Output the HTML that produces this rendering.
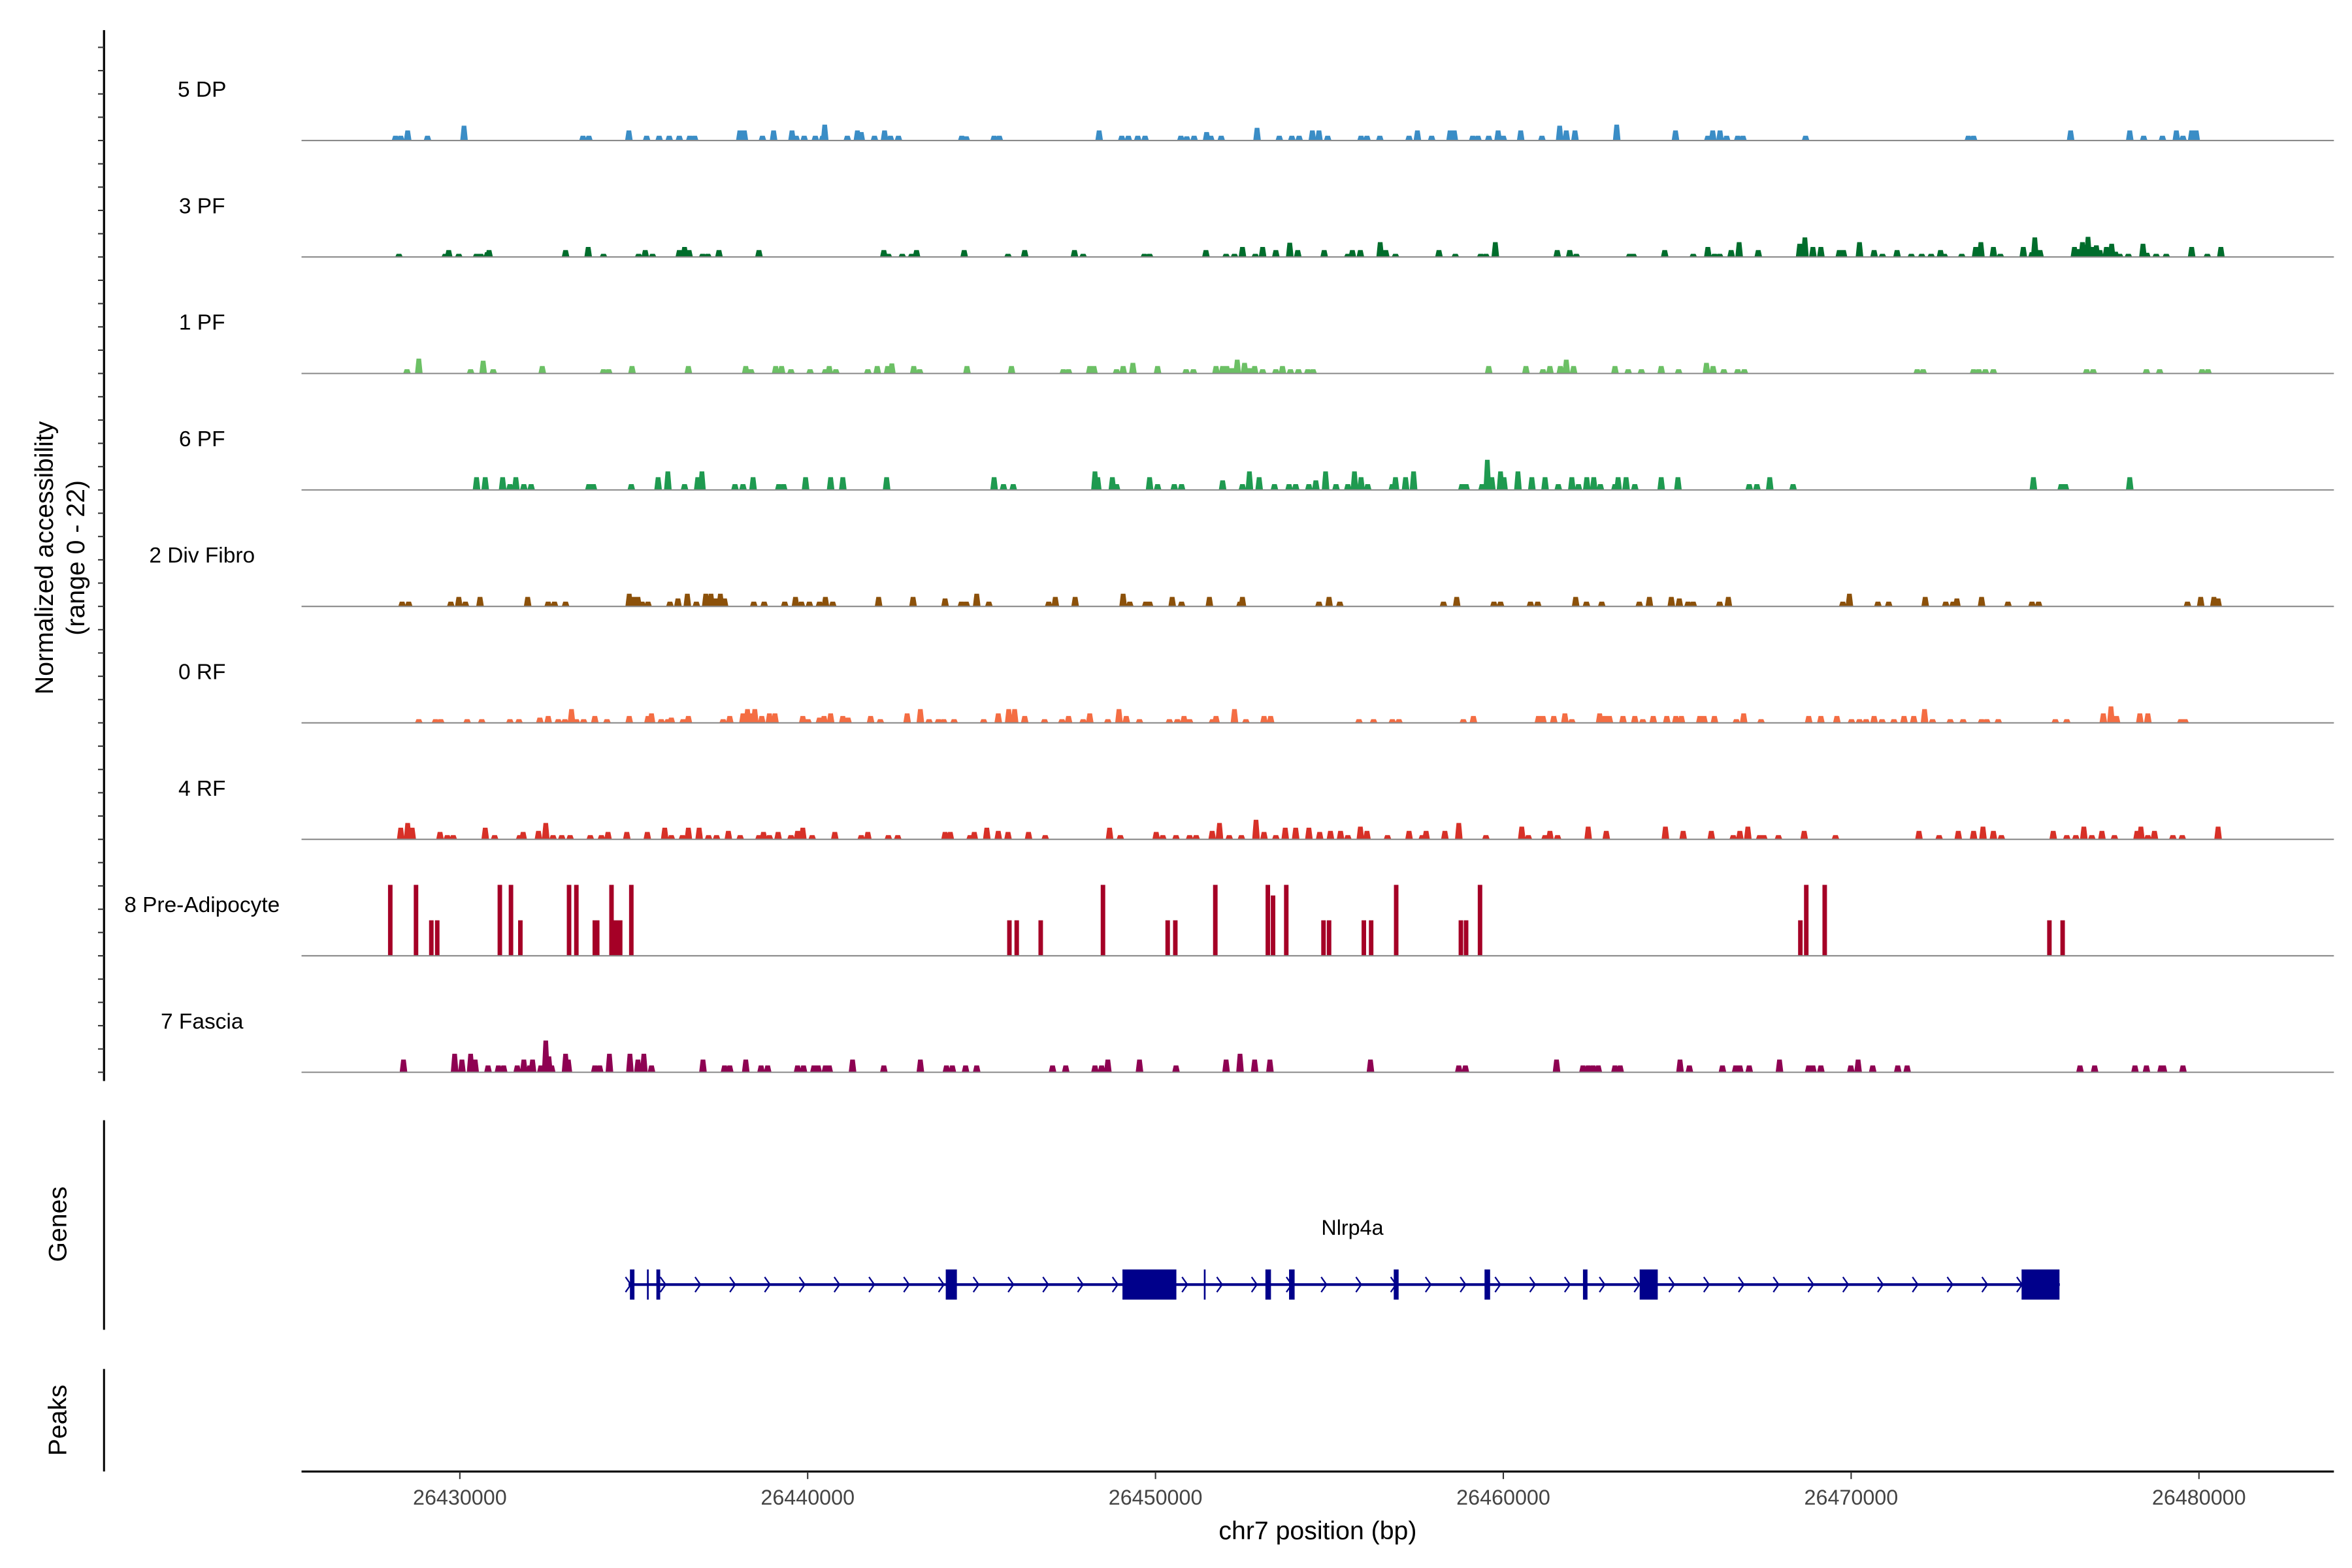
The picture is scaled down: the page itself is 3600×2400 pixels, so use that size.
<!DOCTYPE html>
<html><head><meta charset="utf-8"><style>
html,body{margin:0;padding:0;background:#fff;}
svg{display:block;font-family:"Liberation Sans",sans-serif;}
</style></head>
<body>
<svg id="chart" width="3600" height="2400" viewBox="0 0 1560 1040" xmlns="http://www.w3.org/2000/svg">
<rect x="0" y="0" width="1560" height="1040" fill="#fff"/>
<g id="tracks"></g>
<g id="leftaxis"></g>
<text transform="translate(35,370) rotate(-90)" text-anchor="middle" font-size="17" fill="#000">Normalized accessibility</text>
<text transform="translate(56,370) rotate(-90)" text-anchor="middle" font-size="17" fill="#000">(range 0 - 22)</text>
<line x1="69" y1="743" x2="69" y2="882" stroke="#000" stroke-width="1.3"/>
<text transform="translate(44,812) rotate(-90)" text-anchor="middle" font-size="17" fill="#000">Genes</text>
<line x1="69" y1="908" x2="69" y2="976" stroke="#000" stroke-width="1.3"/>
<text transform="translate(44,942) rotate(-90)" text-anchor="middle" font-size="17" fill="#000">Peaks</text>
<g id="gene"></g>
<g id="xaxis"></g>
<text x="874" y="1021" text-anchor="middle" font-size="17" fill="#000">chr7 position (bp)</text>
</svg>
<script>
// ---- data (positions in kb, chr7 position = 26400000 + kb*1000) ----
const trackNames = ["5 DP","3 PF","1 PF","6 PF","2 Div Fibro","0 RF","4 RF","8 Pre-Adipocyte","7 Fascia"];
const trackColors = ["#3a8dc6","#006d2c","#6cc065","#1f9a50","#8c510a","#f46d43","#d73027","#a50026","#8e0152"];
const xTickValues = [26430000,26440000,26450000,26460000,26470000,26480000];
const xTickLabels = ["26430000","26440000","26450000","26460000","26470000","26480000"];

const dp5Pos = [28.15,28.30,28.50,29.07,30.12,33.54,33.71,34.86,35.37,35.73,36.02,36.31,36.61,36.75,38.05,38.18,38.70,39.02,39.55,39.67,39.90,40.22,40.43,40.49,41.14,41.43,41.54,41.92,42.21,42.38,42.61,44.43,44.56,45.36,45.51,48.38,49.03,49.22,49.49,49.70,50.73,50.90,51.11,51.47,51.59,51.89,52.92,53.56,53.92,54.13,54.51,54.70,54.95,55.91,56.08,56.45,57.29,57.53,57.94,58.47,58.59,59.12,59.27,59.58,59.85,60.00,60.50,61.11,61.62,61.81,62.06,63.26,64.95,65.88,66.02,66.23,66.42,66.74,66.89,68.69,73.37,73.52,76.31,78.01,78.41,78.95,79.35,79.54,79.79,79.92];
const dp5Val = [0.9,0.9,1.9,0.9,2.8,0.9,0.9,1.9,0.9,0.9,0.9,0.9,0.9,0.9,1.9,1.9,0.9,1.9,1.9,0.9,0.9,0.9,0.9,3.0,0.9,1.9,1.6,0.9,1.9,0.9,0.9,0.9,0.8,0.9,0.9,1.9,0.9,0.9,0.9,0.9,0.9,0.8,0.9,1.6,0.9,0.9,2.4,0.9,0.9,0.9,1.9,1.9,0.9,0.9,0.9,0.9,0.9,1.9,0.9,1.9,1.9,0.9,0.9,0.9,1.9,0.9,1.9,0.9,2.8,1.9,1.9,3.0,1.9,0.9,1.9,1.9,0.9,0.9,0.9,0.9,0.9,0.9,1.9,1.9,0.9,0.9,1.9,0.9,1.9,1.9];

const pf3Pos = [28.25,29.58,29.68,29.97,30.48,30.60,30.79,30.84,33.04,33.69,34.13,35.14,35.33,35.54,36.31,36.46,36.59,36.98,37.13,37.45,38.60,42.19,42.32,42.72,42.99,43.13,44.50,45.76,46.24,47.67,47.92,49.68,49.83,51.45,52.03,52.27,52.50,52.87,53.08,53.46,53.86,54.09,54.85,55.53,55.66,55.89,56.46,56.62,56.90,58.15,58.62,59.35,59.50,59.77,61.55,61.91,62.10,63.63,63.74,64.64,65.46,65.88,66.07,66.22,66.55,66.78,67.33,68.52,68.67,68.90,69.13,69.66,69.78,70.24,70.66,70.90,71.32,71.73,72.03,72.30,72.57,72.68,73.18,73.58,73.73,74.09,74.29,74.95,75.20,75.28,75.43,76.42,76.55,76.65,76.81,76.96,77.05,77.15,77.34,77.49,77.60,77.72,77.97,78.39,78.50,78.77,79.06,79.79,80.24,80.63];
const pf3Val = [0.6,0.6,1.3,0.6,0.6,0.6,0.9,1.3,1.3,1.9,0.6,0.6,1.3,0.6,1.3,1.9,1.3,0.6,0.6,1.3,1.3,1.3,0.6,0.6,0.6,1.3,1.3,0.6,1.3,1.3,0.6,0.6,0.6,1.3,0.6,0.6,1.9,0.6,1.9,1.3,2.7,1.3,1.3,0.6,1.3,1.3,2.8,1.3,0.6,1.3,0.6,0.6,0.6,2.8,1.3,1.3,0.6,0.6,0.6,1.3,0.6,1.9,0.6,0.6,1.3,2.8,1.3,2.5,3.7,1.9,1.9,1.3,1.3,2.8,1.3,0.6,1.3,0.6,0.6,0.6,1.3,0.6,0.6,1.9,2.8,1.9,0.6,1.9,0.9,3.7,1.3,1.9,1.5,2.8,3.8,1.9,2.2,1.3,1.9,2.5,1.0,0.6,0.6,2.5,0.8,0.6,0.6,1.9,0.6,1.9];

const pf1Pos = [28.48,28.82,30.31,30.67,30.96,32.37,34.13,34.28,34.95,36.57,38.22,38.37,39.08,39.25,39.52,40.07,40.51,40.62,40.81,41.73,42.00,42.30,42.42,43.05,43.22,44.58,45.86,47.35,47.50,48.11,48.23,48.88,49.07,49.35,50.06,50.88,51.09,51.74,51.93,52.05,52.20,52.35,52.56,52.70,52.85,53.08,53.46,53.65,53.88,54.11,54.38,54.53,59.58,60.65,61.14,61.34,61.64,61.81,62.02,63.21,63.59,63.97,64.54,65.04,65.84,66.03,66.34,66.74,66.93,71.90,72.07,73.52,73.67,73.86,74.09,76.77,76.96,78.49,78.87,80.09,80.26];
const pf1Val = [0.8,2.8,0.8,2.4,0.8,1.4,0.8,0.8,1.4,1.4,1.4,0.8,1.4,1.4,0.8,0.8,0.8,1.4,0.8,0.8,1.4,1.4,1.9,1.4,0.8,1.4,1.4,0.8,0.8,1.4,1.4,0.8,1.4,2.0,1.4,0.8,0.8,1.4,1.4,1.4,1.0,2.6,2.0,1.0,1.4,0.8,0.8,1.4,0.8,0.8,0.8,0.8,1.4,1.4,0.8,1.4,1.4,2.6,1.4,1.4,0.8,0.8,1.4,0.8,2.0,1.4,0.8,0.8,0.8,0.8,0.8,0.8,0.8,0.8,0.8,0.8,0.8,0.8,0.8,0.8,0.8];

const pf6Pos = [30.48,30.73,31.23,31.44,31.61,31.84,32.05,33.71,33.84,34.93,35.70,35.98,36.46,36.84,36.96,37.91,38.14,38.43,39.17,39.31,39.94,40.66,41.01,42.27,45.36,45.63,45.91,48.26,48.34,48.76,48.88,49.83,50.06,50.54,50.75,51.93,52.50,52.70,52.98,53.42,53.84,54.03,54.41,54.61,54.89,55.19,55.53,55.72,55.91,56.10,56.81,56.90,57.19,57.42,58.81,58.93,59.39,59.54,59.67,59.92,60.02,60.42,60.82,61.20,61.58,61.97,62.16,62.40,62.60,62.79,63.21,63.30,63.53,63.78,64.54,65.02,67.07,67.29,67.66,68.33,75.24,76.04,76.16,78.01];
const pf6Val = [2.4,2.4,2.4,1.1,2.4,1.1,1.1,1.1,1.1,1.1,2.4,3.5,1.1,2.4,3.5,1.1,1.1,2.4,1.1,1.1,2.4,2.4,2.4,2.4,2.4,1.1,1.1,3.5,2.4,2.4,1.1,2.4,1.1,1.1,1.1,1.8,1.1,3.5,2.4,1.1,1.1,1.1,1.1,1.8,3.5,1.1,1.1,3.5,2.4,1.1,1.1,2.4,2.4,3.5,1.1,1.1,1.1,5.7,2.4,3.5,2.4,3.5,2.4,2.4,1.1,2.4,1.1,2.4,2.4,1.1,1.1,2.4,2.4,1.1,2.4,2.4,1.1,1.1,2.4,1.1,2.4,1.1,1.1,2.4];

const divPos = [28.34,28.53,29.74,29.97,30.16,30.58,31.95,32.54,32.72,33.04,34.87,34.99,35.12,35.24,35.41,36.04,36.27,36.54,36.80,37.07,37.22,37.35,37.49,37.61,38.45,38.75,39.34,39.65,39.82,40.05,40.34,40.51,40.72,42.04,43.03,43.95,44.42,44.56,44.86,45.21,46.93,47.12,47.69,49.07,49.26,49.72,49.83,50.48,50.75,51.55,52.43,52.50,54.70,54.99,55.30,58.28,58.66,59.73,59.92,60.78,60.99,62.08,62.39,62.83,63.91,64.20,64.83,65.06,65.31,65.46,66.22,66.47,69.76,69.95,70.77,71.08,72.13,72.72,72.93,73.04,73.75,74.51,75.20,75.39,79.67,80.05,80.43,80.55];
const divVal = [0.9,0.9,0.9,1.8,0.9,1.8,1.8,0.9,0.9,0.9,2.4,1.8,1.8,0.9,0.9,0.9,1.5,2.4,0.9,2.4,2.4,1.5,2.4,1.5,0.9,0.9,0.9,1.8,0.9,0.9,0.9,1.8,0.9,1.8,1.8,1.5,0.9,0.9,2.4,0.9,0.9,1.8,1.8,2.4,0.9,0.9,0.9,1.8,0.9,1.8,0.9,1.8,0.9,1.8,0.9,0.9,1.8,0.9,0.9,0.9,0.9,1.8,0.9,0.9,0.9,1.8,1.8,1.5,0.9,0.9,0.9,1.8,0.9,2.4,0.9,0.9,1.8,0.9,0.9,1.5,1.8,0.9,0.9,0.9,0.9,1.8,1.8,1.5];

const rf0Pos = [28.82,29.30,29.45,30.21,30.63,31.44,31.70,32.30,32.54,32.83,33.02,33.21,33.35,33.56,33.88,34.23,34.87,35.41,35.51,35.79,35.98,36.08,36.42,36.57,37.57,37.76,38.14,38.27,38.37,38.48,38.68,38.90,39.06,39.86,40.01,40.34,40.47,40.66,41.01,41.16,41.81,42.09,42.86,43.24,43.49,43.76,43.91,44.21,45.06,45.48,45.78,45.95,46.24,46.81,47.31,47.50,47.92,48.11,48.63,48.95,49.16,49.54,50.40,50.63,50.82,50.98,51.64,51.74,52.27,52.60,53.12,53.31,55.85,56.27,56.81,57.00,58.85,59.14,61.01,61.14,61.45,61.77,61.97,62.77,62.92,63.05,63.44,63.78,64.01,64.31,64.70,64.96,65.12,65.65,65.77,66.07,66.70,66.91,67.41,68.78,69.13,69.59,70.01,70.24,70.43,70.66,70.89,71.23,71.52,71.80,72.11,72.34,72.85,73.22,73.75,73.90,74.23,75.87,76.20,77.25,77.47,77.63,78.30,78.53,79.48,79.60];
const rf0Val = [0.7,0.7,0.7,0.7,0.7,0.7,0.7,1.0,1.3,0.7,0.7,2.6,0.7,0.7,1.3,0.7,1.3,1.3,1.8,0.7,0.7,1.0,0.7,1.3,0.7,1.3,1.8,2.6,1.8,2.6,1.3,1.8,1.8,1.3,0.7,1.0,1.3,1.8,1.3,1.0,1.3,0.7,1.8,2.6,0.7,0.7,0.7,0.7,0.7,1.8,2.6,2.6,1.3,0.7,0.7,1.3,0.7,1.8,0.7,2.6,1.3,0.7,0.7,0.7,1.3,0.7,0.7,1.3,2.6,0.7,1.3,1.3,0.7,0.7,0.7,0.7,0.7,1.3,1.3,1.3,1.3,1.8,0.7,1.8,1.3,1.3,1.3,1.3,0.7,1.3,1.3,1.3,1.3,1.3,1.3,1.3,0.7,1.8,0.7,1.3,1.3,1.3,0.7,0.7,0.7,1.3,0.7,0.7,1.3,1.3,2.6,0.7,0.7,0.7,0.7,0.7,0.7,0.7,0.7,1.8,3.1,1.3,1.8,1.8,0.7,0.7];

const rf4Pos = [28.30,28.50,28.63,29.43,29.64,29.81,30.73,31.00,31.72,31.82,32.26,32.47,32.68,32.93,33.17,33.75,34.07,34.26,34.80,35.39,35.89,36.08,36.40,36.57,36.88,37.15,37.38,37.72,38.06,38.60,38.73,38.90,39.15,39.52,39.71,39.86,40.13,40.78,41.54,41.73,42.32,42.59,43.95,44.10,44.67,44.79,45.15,45.48,45.76,46.35,46.83,48.68,48.99,50.02,50.21,50.59,50.98,51.17,51.63,51.84,52.12,52.47,52.89,53.12,53.46,53.73,54.03,54.41,54.72,55.03,55.32,55.53,55.89,56.08,56.67,57.29,57.67,57.78,58.32,58.72,59.50,60.53,60.72,61.20,61.34,61.56,62.44,62.96,64.66,65.17,65.98,66.61,66.80,67.03,67.37,67.49,67.91,68.65,69.55,71.95,72.53,73.08,73.52,73.79,74.09,74.32,75.81,76.20,76.46,76.69,76.92,77.21,77.57,78.22,78.33,78.53,78.72,79.25,79.52,80.55];
const rf4Val = [2.2,3.1,2.2,1.4,0.8,0.8,2.2,0.8,0.8,1.4,1.6,3.1,0.8,0.8,0.8,0.8,0.8,1.4,1.4,1.4,2.2,0.8,0.8,2.2,2.2,0.8,0.8,1.6,0.8,0.8,1.4,0.8,1.4,0.8,1.6,2.2,0.8,1.4,0.8,1.4,0.8,0.8,1.4,1.4,0.8,1.4,2.2,1.6,1.4,1.4,0.8,2.2,0.8,1.4,0.8,0.8,0.8,0.8,1.6,3.1,0.8,0.8,3.7,1.4,0.8,2.2,2.2,2.2,1.4,1.6,1.6,0.8,2.4,1.6,0.8,1.6,0.8,1.6,1.6,3.1,0.8,2.4,0.8,0.8,1.6,0.8,2.4,1.6,2.4,1.6,1.6,0.8,1.6,2.4,0.8,0.8,0.8,1.6,0.8,1.6,0.8,1.6,1.6,2.4,1.6,0.8,1.6,0.8,0.8,2.4,0.8,1.6,0.8,1.6,2.4,0.8,1.6,0.8,0.8,2.4];

const preAdPos = [28.00,28.74,29.18,29.35,31.15,31.47,31.74,33.14,33.35,33.88,33.95,34.36,34.44,34.49,34.55,34.61,34.93,45.80,46.01,46.70,48.49,50.35,50.57,51.72,53.23,53.38,53.76,54.83,54.99,55.99,56.20,56.92,58.78,58.93,59.33,68.54,68.71,69.24,75.70,76.08];
const preAdVal = [13.4,13.4,6.7,6.7,13.4,13.4,6.7,13.4,13.4,6.7,6.7,13.4,6.7,6.7,6.7,6.7,13.4,6.7,6.7,6.7,13.4,6.7,6.7,13.4,13.4,11.4,13.4,6.7,6.7,6.7,6.7,13.4,6.7,6.7,13.4,6.7,13.4,13.4,6.7,6.7];

const fasciaPos = [28.38,29.85,30.06,30.31,30.44,30.81,31.11,31.26,31.65,31.84,32.01,32.09,32.33,32.47,32.56,32.64,33.04,33.12,33.88,34.02,34.30,34.89,35.12,35.29,35.51,36.99,37.61,37.76,38.22,38.66,38.85,39.71,39.88,40.18,40.30,40.51,40.62,41.29,42.19,43.24,43.99,44.16,44.54,44.86,47.04,47.42,48.26,48.45,48.63,49.54,50.59,52.03,52.43,52.85,53.29,56.18,58.72,58.91,61.53,62.29,62.44,62.58,62.73,63.21,63.36,65.08,65.35,66.30,66.68,66.80,67.07,67.94,68.78,68.90,69.13,69.99,70.20,70.62,71.34,71.61,76.58,77.00,78.16,78.49,78.91,78.98,79.54];
const fasciaVal = [2.4,3.5,2.4,3.5,2.4,1.3,1.3,1.3,1.3,2.4,1.3,2.4,1.3,6.0,3.0,1.3,3.5,2.4,1.3,1.3,3.5,3.5,2.4,3.5,1.3,2.4,1.3,1.3,2.4,1.3,1.3,1.3,1.3,1.3,1.3,1.3,1.3,2.4,1.3,2.4,1.3,1.3,1.3,1.3,1.3,1.3,1.3,1.3,2.4,2.4,1.3,2.4,3.5,2.4,2.4,2.4,1.3,1.3,2.4,1.3,1.3,1.3,1.3,1.3,1.3,2.4,1.3,1.3,1.3,1.3,1.3,2.4,1.3,1.3,1.3,1.3,2.4,1.3,1.3,1.3,1.3,1.3,1.3,1.3,1.3,1.3,1.3];

const trackPos = [dp5Pos,pf3Pos,pf1Pos,pf6Pos,divPos,rf0Pos,rf4Pos,preAdPos,fasciaPos];
const trackVal = [dp5Val,pf3Val,pf1Val,pf6Val,divVal,rf0Val,rf4Val,preAdVal,fasciaVal];

// gene model (kb)
const geneStart = 34.85, geneEnd = 76.0;
const exonStarts = [34.89,35.38,35.65,43.97,49.05,51.39,53.16,53.84,56.85,59.46,62.29,63.92,74.90];
const exonEnds   = [35.02,35.43,35.76,44.29,50.60,51.44,53.32,54.00,56.99,59.62,62.42,64.44,75.99];

// ---- scales ----
const NS = "http://www.w3.org/2000/svg";
const X0 = 305, PXKB = 23.07;
function xScale(kb){ return X0 + (kb - 30) * PXKB; }
function bpToKb(bp){ return (bp - 26400000) / 1000; }
const BASE0 = 93.2, STEP = 77.25, YMAX = 22;
function yScale(i, v){ return BASE0 + STEP * i - v * STEP / YMAX; }
function mk(tag, attrs, parent){ const e = document.createElementNS(NS, tag); for (const k in attrs) e.setAttribute(k, attrs[k]); parent.appendChild(e); return e; }

const tracks = document.getElementById('tracks');
for (let i = 0; i < trackNames.length; i++) {
  const g = mk('g', {}, tracks);
  
  
  const base = yScale(i, 0);
  const lab = mk('text', {x: 134, y: base - 29, 'text-anchor': 'middle', 'font-size': 14.5, fill: '#000'}, g);
  lab.textContent = trackNames[i];
  
  
  const pos = trackPos[i], val = trackVal[i];
  const w = (i === 7) ? 0.13 : 0.22;
  let d = '';
  for (let j = 0; j < pos.length; j++) {
    const v = val[j] === undefined ? 0.9 : val[j];
    const xl = xScale(pos[j] - w / 2), xr = xScale(pos[j] + w / 2), yt = yScale(i, v);
    if (i === 7) d += `M${xl},${base}L${xl},${yt}L${xr},${yt}L${xr},${base}Z`;
    else { const q = (xr - xl) * 0.2; d += `M${xl},${base}L${xl + q},${yt}L${xr - q},${yt}L${xr},${base}Z`; }
  }
  const p = mk('path', {d: d, fill: trackColors[i]}, g);
  
  
  const bl = mk('line', {x1: 200, x2: 1548, y1: base, y2: base, stroke: '#8a8a8a', 'stroke-width': 0.9}, g);
  
  
}

// left axis with minor ticks
const la = document.getElementById('leftaxis');
const al = mk('line', {x1: 69, x2: 69, y1: 20, y2: 717, stroke: '#000', 'stroke-width': 1.4}, la);


for (let t = BASE0 + STEP * 8; t >= 22; t -= STEP / 5) {
  const tk = mk('line', {x1: 65, x2: 69, y1: t, y2: t, stroke: '#333', 'stroke-width': 0.9}, la);
  
  
}

// gene
const gg = document.getElementById('gene');
const GY = 852;
const gl = mk('line', {x1: xScale(geneStart), x2: xScale(geneEnd), y1: GY, y2: GY, stroke: '#00008b', 'stroke-width': 1.8}, gg);


for (let k = geneStart; k < geneEnd - 0.4; k += 1.0) {
  const cx = xScale(k);
  const ch = mk('polyline', {points: `${cx - 2},${GY - 5} ${cx + 1.5},${GY} ${cx - 2},${GY + 5}`, fill: 'none', stroke: '#00008b', 'stroke-width': 1}, gg);
  
  
}
for (let k = 0; k < exonStarts.length; k++) {
  const x1 = xScale(exonStarts[k]), x2 = xScale(exonEnds[k]);
  const ex = mk('rect', {x: x1, y: GY - 10, width: Math.max(1, x2 - x1), height: 20, fill: '#00008b'}, gg);
  
  
}
const gn = mk('text', {x: 897, y: 819, 'text-anchor': 'middle', 'font-size': 14, fill: '#000'}, gg);
gn.textContent = 'Nlrp4a';



// x axis
const xa = document.getElementById('xaxis');
const xl = mk('line', {x1: 200, x2: 1548, y1: 976, y2: 976, stroke: '#000', 'stroke-width': 1.4}, xa);


for (let k = 0; k < xTickValues.length; k++) {
  const x = xScale(bpToKb(xTickValues[k]));
  const tk = mk('line', {x1: x, x2: x, y1: 976, y2: 981, stroke: '#333', 'stroke-width': 0.9}, xa);
  
  
  const tl = mk('text', {x: x, y: 998, 'text-anchor': 'middle', 'font-size': 14, fill: '#444'}, xa);
  tl.textContent = xTickLabels[k];
  
  
}
</script>
</body></html>
